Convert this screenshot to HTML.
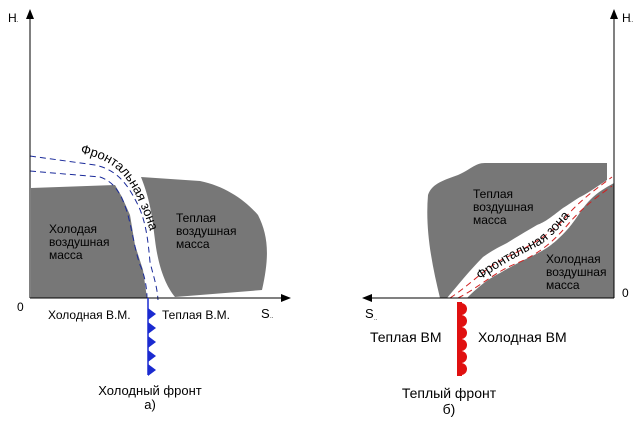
<!DOCTYPE html>
<html><head><meta charset="utf-8"><style>
html,body{margin:0;padding:0;background:#fff;width:640px;height:426px;overflow:hidden}
svg text{font-family:"Liberation Sans",sans-serif;fill:#000}
</style></head><body>
<svg width="640" height="426" viewBox="0 0 640 426" xmlns="http://www.w3.org/2000/svg">
<defs>
<marker id="ar" markerWidth="10" markerHeight="8" refX="9" refY="4" orient="auto" markerUnits="userSpaceOnUse"><path d="M0,0 L10,4 L0,8 z" fill="#000"/></marker>
<path id="fz1" d="M80,153 C110,160 125,170 138,200 C150,225 152,240 158,260"/>
<path id="fz2" d="M480,280 C505,262 520,255 540,245 C560,232 570,210 600,190"/>
</defs>
<!-- LEFT -->
<path d="M31,188 L115,185 L122,197 L130,215 L135,245 L143,270 L147,298 L31,298 Z" fill="#777"/>
<path d="M141,177 L200,181 C225,186 245,200 258,215 C268,235 270,255 262,290 L175,297 C165,285 158,265 155,240 C152,215 150,200 141,177 Z" fill="#777"/>
<path d="M30,156 L95,165 C118,170 128,185 138,205 C146,222 148,240 150,262 C153,275 157,285 158,300" fill="none" stroke="#1a2a9a" stroke-width="1" stroke-dasharray="6,4"/>
<path d="M30,171 L100,177 C115,182 122,195 128,215 C133,235 135,250 140,265 C145,275 147,290 147,298" fill="none" stroke="#1a2a9a" stroke-width="1" stroke-dasharray="6,4"/>
<text font-size="13"><textPath href="#fz1">Фронтальная зона</textPath></text>
<line x1="30" y1="298" x2="30" y2="10" stroke="#000" marker-end="url(#ar)"/>
<line x1="30" y1="298" x2="290" y2="298" stroke="#000" marker-end="url(#ar)"/>
<text x="8" y="22" font-size="12">H</text><text x="15" y="22" font-size="6">..</text>
<text x="17" y="311" font-size="12">0</text>
<text x="261" y="318" font-size="13">S</text><text x="270" y="318" font-size="6">..</text>
<text x="49" y="233" font-size="12">Холодая</text>
<text x="49" y="246" font-size="12">воздушная</text>
<text x="49" y="259" font-size="12">масса</text>
<text x="176" y="222" font-size="12">Теплая</text>
<text x="176" y="235" font-size="12">воздушная</text>
<text x="176" y="248" font-size="12">масса</text>
<text x="48" y="319" font-size="12">Холодная В.М.</text>
<text x="162" y="319" font-size="12">Теплая В.М.</text>
<line x1="148" y1="298" x2="148" y2="375" stroke="#1a2ad0" stroke-width="1.5"/>
<g fill="#1a2ad0">
<path d="M148,308 L156,314 L148,320 Z"/><path d="M148,322 L156,328 L148,334 Z"/><path d="M148,336 L156,342 L148,348 Z"/><path d="M148,350 L156,356 L148,362 Z"/><path d="M148,364 L156,370 L148,376 Z"/>
</g>
<text x="150" y="395" font-size="13" text-anchor="middle">Холодный фронт</text>
<text x="150" y="409" font-size="13" text-anchor="middle">а)</text>
<!-- RIGHT -->
<path d="M428,195 C432,183 445,180 458,175 C470,170 475,163 485,163 L607,163 L607,180 C595,188 585,195 580,197 C572,202 568,205 563,208 C550,218 545,222 537,225 C525,232 515,238 507,243 C495,249 490,252 483,257 C470,270 458,285 447,298 L440,298 C432,265 425,230 428,195 Z" fill="#777"/>
<path d="M467,298 C480,285 490,278 500,273 C512,266 520,262 530,257 C545,250 550,246 557,240 C568,230 572,224 577,217 C583,208 586,204 590,200 C598,192 605,188 614,183 L614,298 Z" fill="#777"/>
<path d="M450,298 C470,285 485,268 505,258 C530,246 550,235 565,218 C580,200 595,190 612,177" fill="none" stroke="#d02020" stroke-width="1" stroke-dasharray="6,4"/>
<path d="M458,298 C478,288 495,272 515,264 C540,254 555,240 570,222 C585,205 600,195 612,186" fill="none" stroke="#d02020" stroke-width="1" stroke-dasharray="6,4"/>
<text font-size="13"><textPath href="#fz2">Фронтальная зона</textPath></text>
<line x1="614" y1="298" x2="614" y2="10" stroke="#000" marker-end="url(#ar)"/>
<line x1="614" y1="298" x2="363" y2="298" stroke="#000" marker-end="url(#ar)"/>
<text x="622" y="22" font-size="12">H</text><text x="630" y="22" font-size="6">..</text>
<text x="622" y="297" font-size="12">0</text>
<text x="365" y="318" font-size="13">S</text><text x="374" y="320" font-size="6">..</text>
<text x="473" y="198" font-size="12">Теплая</text>
<text x="473" y="211" font-size="12">воздушная</text>
<text x="473" y="224" font-size="12">масса</text>
<text x="546" y="263" font-size="12">Холодная</text>
<text x="546" y="276" font-size="12">воздушная</text>
<text x="546" y="289" font-size="12">масса</text>
<text x="370" y="342" font-size="14">Теплая ВМ</text>
<text x="478" y="342" font-size="14">Холодная ВМ</text>
<rect x="457" y="302" width="5" height="74" fill="#e01010"/>
<g fill="#e01010">
<path d="M461,303 A6,6 0 0 1 461,315 Z"/><path d="M461,315 A6,6 0 0 1 461,327 Z"/><path d="M461,327 A6,6 0 0 1 461,339 Z"/><path d="M461,339 A6,6 0 0 1 461,351 Z"/><path d="M461,351 A6,6 0 0 1 461,363 Z"/><path d="M461,363 A6,6 0 0 1 461,375 Z"/>
</g>
<text x="449" y="398" font-size="14" text-anchor="middle">Теплый фронт</text>
<text x="449" y="414" font-size="14" text-anchor="middle">б)</text>
</svg>
</body></html>
